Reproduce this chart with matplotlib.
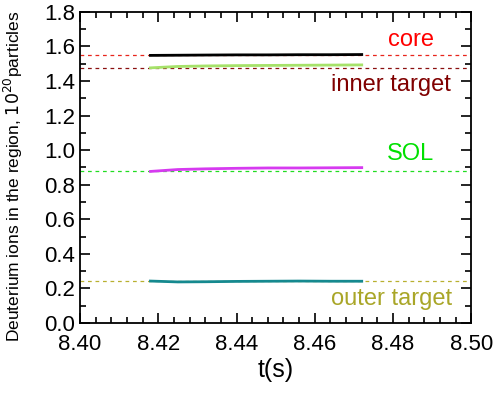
import matplotlib
matplotlib.use("Agg")
import matplotlib.pyplot as plt
import numpy as np
from matplotlib.ticker import MultipleLocator

plt.rcParams['font.family'] = ['Liberation Sans', 'DejaVu Sans']

# time points of the simulation (s)
t = [8.418, 8.425, 8.432, 8.44, 8.448, 8.456, 8.464, 8.472]

# particle content, 10^20 particles
core = [1.548, 1.549, 1.550, 1.551, 1.551, 1.552, 1.552, 1.553]
inner_target = [1.476, 1.484, 1.487, 1.489, 1.490, 1.491, 1.492, 1.493]
sol = [0.877, 0.888, 0.892, 0.895, 0.897, 0.897, 0.898, 0.899]
outer_target = [0.243, 0.238, 0.239, 0.241, 0.242, 0.243, 0.242, 0.242]

# reference levels (dashed)
ref_core = 1.548
ref_inner = 1.476
ref_sol = 0.877
ref_outer = 0.245

fig = plt.figure(figsize=(4.94, 3.94), dpi=100)
ax = fig.add_axes([0.162, 0.18, 0.792, 0.79])

ax.axhline(ref_core, color='#e8251c', ls=(0, (3, 3)), lw=0.9)
ax.axhline(ref_inner, color='#8b1010', ls=(0, (3, 3)), lw=0.9)
ax.axhline(ref_sol, color='#22dd22', ls=(0, (3, 3)), lw=0.9)
ax.axhline(ref_outer, color='#b8b030', ls=(0, (3, 3)), lw=0.9)

ax.plot(t, core, color='black', lw=2)
ax.plot(t, inner_target, color='#a6e26a', lw=2)
ax.plot(t, sol, color='#d63af0', lw=2)
ax.plot(t, outer_target, color='#15898f', lw=2)

ax.text(8.4845, 1.635, 'core', color='#ff0000', fontsize=17, ha='center', va='center')
ax.text(8.4795, 1.375, 'inner target', color='#800000', fontsize=17, ha='center', va='center')
ax.text(8.4845, 0.975, 'SOL', color='#00e000', fontsize=17, ha='center', va='center')
ax.text(8.4795, 0.14, 'outer target', color='#a9a628', fontsize=17, ha='center', va='center')

ax.set_xlim(8.40, 8.50)
ax.set_ylim(0.0, 1.8)
ax.xaxis.set_major_locator(MultipleLocator(0.02))
ax.xaxis.set_minor_locator(MultipleLocator(0.004))
ax.yaxis.set_major_locator(MultipleLocator(0.2))
ax.yaxis.set_minor_locator(MultipleLocator(0.1))
ax.xaxis.set_major_formatter(matplotlib.ticker.FormatStrFormatter('%.2f'))
ax.yaxis.set_major_formatter(matplotlib.ticker.FormatStrFormatter('%.1f'))
ax.tick_params(which='both', direction='in', top=True, right=True, labelsize=16, width=1.2)
ax.tick_params(axis='x', pad=8)
ax.tick_params(which='major', length=7)
ax.tick_params(which='minor', length=4)
for s in ax.spines.values():
    s.set_linewidth(1.3)

ax.set_xlabel('t(s)', fontsize=18, labelpad=2)
ax.set_ylabel('Deuterium ions in the region, $10^{20}$particles', fontsize=12.5)
ax.yaxis.set_label_coords(-0.14, 0.47)

fig.savefig('out.png', dpi=100)
